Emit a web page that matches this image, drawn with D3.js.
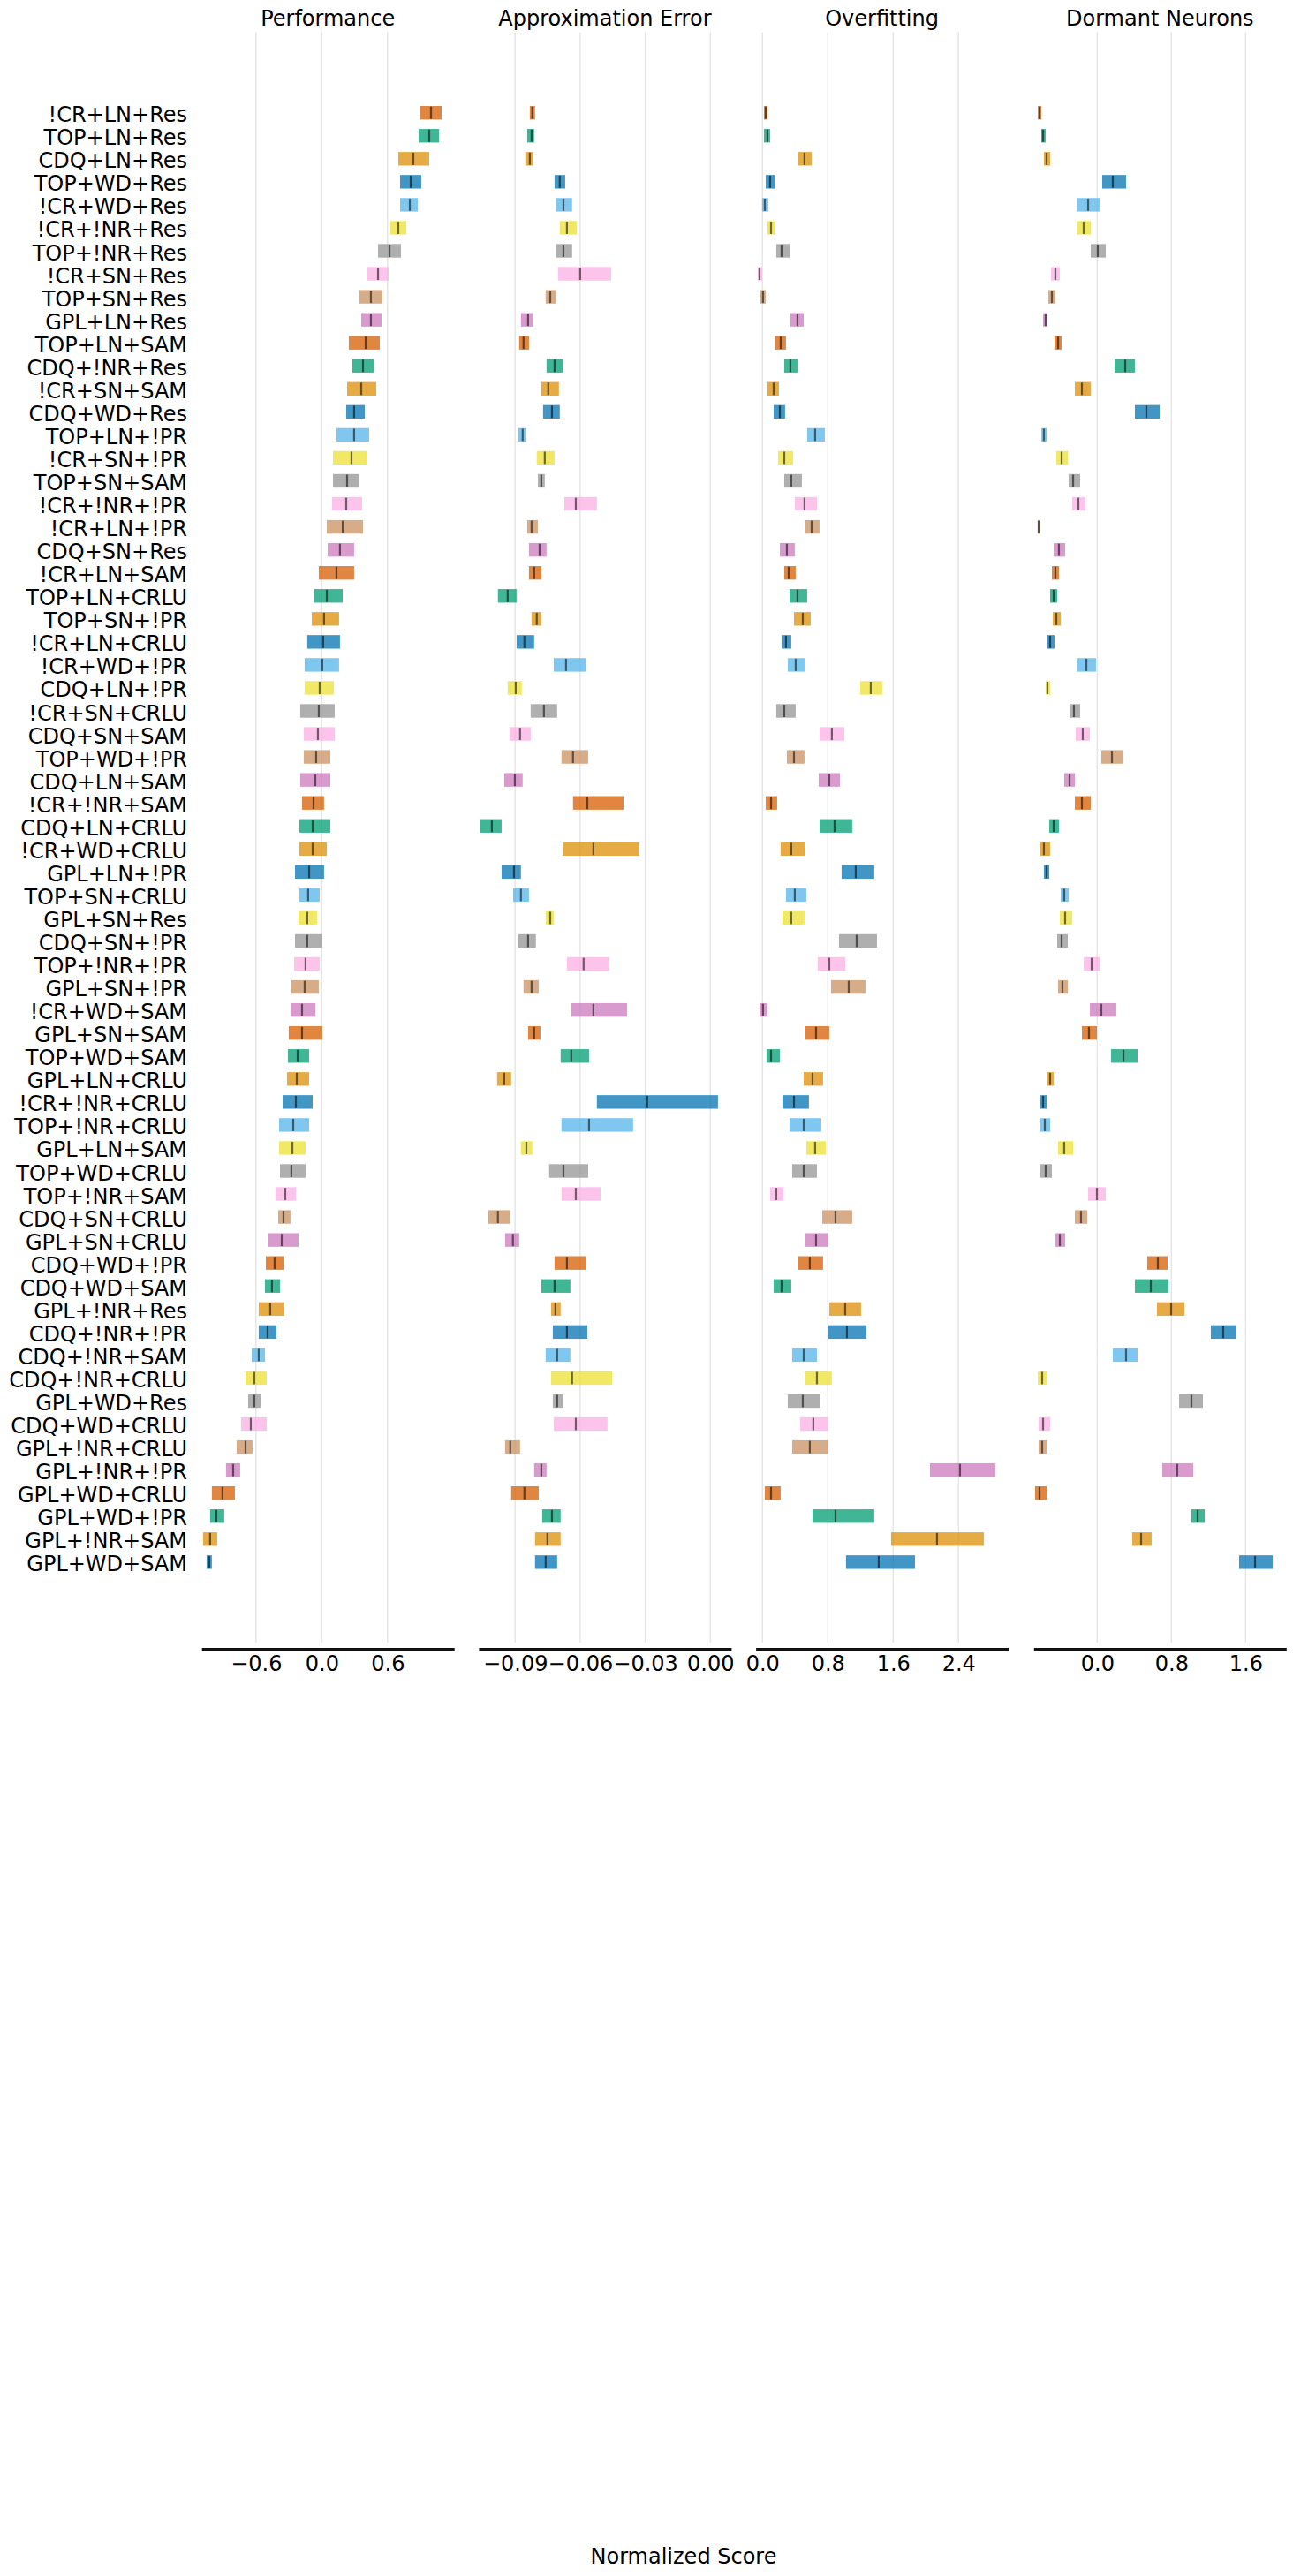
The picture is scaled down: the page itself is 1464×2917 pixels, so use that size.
<!DOCTYPE html>
<html>
<head>
<meta charset="utf-8">
<script src="https://cdn.jsdelivr.net/npm/d3@7"></script>
<style>
  html, body { margin: 0; padding: 0; background: #ffffff; }
  svg { display: block; }
  text { font-family: "DejaVu Sans", sans-serif; fill: #000; }
</style>
</head>
<body>
<div id="chart"></div>
<script>
// ---------------- DATA ----------------
const categories = [
  "!CR+LN+Res","TOP+LN+Res","CDQ+LN+Res","TOP+WD+Res","!CR+WD+Res","!CR+!NR+Res","TOP+!NR+Res","!CR+SN+Res",
  "TOP+SN+Res","GPL+LN+Res","TOP+LN+SAM","CDQ+!NR+Res","!CR+SN+SAM","CDQ+WD+Res","TOP+LN+!PR","!CR+SN+!PR",
  "TOP+SN+SAM","!CR+!NR+!PR","!CR+LN+!PR","CDQ+SN+Res","!CR+LN+SAM","TOP+LN+CRLU","TOP+SN+!PR","!CR+LN+CRLU",
  "!CR+WD+!PR","CDQ+LN+!PR","!CR+SN+CRLU","CDQ+SN+SAM","TOP+WD+!PR","CDQ+LN+SAM","!CR+!NR+SAM","CDQ+LN+CRLU",
  "!CR+WD+CRLU","GPL+LN+!PR","TOP+SN+CRLU","GPL+SN+Res","CDQ+SN+!PR","TOP+!NR+!PR","GPL+SN+!PR","!CR+WD+SAM",
  "GPL+SN+SAM","TOP+WD+SAM","GPL+LN+CRLU","!CR+!NR+CRLU","TOP+!NR+CRLU","GPL+LN+SAM","TOP+WD+CRLU","TOP+!NR+SAM",
  "CDQ+SN+CRLU","GPL+SN+CRLU","CDQ+WD+!PR","CDQ+WD+SAM","GPL+!NR+Res","CDQ+!NR+!PR","CDQ+!NR+SAM","CDQ+!NR+CRLU",
  "GPL+WD+Res","CDQ+WD+CRLU","GPL+!NR+CRLU","GPL+!NR+!PR","GPL+WD+CRLU","GPL+WD+!PR","GPL+!NR+SAM","GPL+WD+SAM"
];

const panelTitles = ["Performance", "Approximation Error", "Overfitting", "Dormant Neurons"];
const xAxisLabel = "Normalized Score";

// Performance
const perfLow = [0.899,0.883,0.698,0.714,0.714,0.626,0.513,0.416,0.344,0.360,0.247,0.279,0.231,0.223,0.134,0.102,
  0.102,0.094,0.046,0.054,-0.027,-0.067,-0.091,-0.132,-0.156,-0.156,-0.196,-0.164,-0.164,-0.196,-0.180,-0.204,
  -0.204,-0.244,-0.204,-0.212,-0.244,-0.252,-0.277,-0.285,-0.301,-0.309,-0.317,-0.357,-0.389,-0.389,-0.381,-0.422,
  -0.397,-0.486,-0.510,-0.518,-0.575,-0.575,-0.639,-0.695,-0.671,-0.736,-0.776,-0.873,-1.002,-1.018,-1.082,-1.050];
const perfMid = [0.996,0.980,0.835,0.811,0.803,0.698,0.618,0.513,0.448,0.448,0.400,0.376,0.360,0.295,0.295,0.271,
  0.231,0.223,0.191,0.166,0.134,0.046,0.021,0.013,0.005,-0.019,-0.027,-0.035,-0.051,-0.059,-0.075,-0.083,
  -0.083,-0.115,-0.124,-0.132,-0.132,-0.148,-0.156,-0.180,-0.180,-0.220,-0.228,-0.236,-0.260,-0.268,-0.277,-0.333,
  -0.349,-0.365,-0.430,-0.454,-0.470,-0.494,-0.575,-0.615,-0.615,-0.647,-0.695,-0.808,-0.905,-0.961,-1.018,-1.026];
const perfHigh = [1.093,1.069,0.980,0.907,0.875,0.771,0.722,0.610,0.553,0.545,0.529,0.473,0.497,0.392,0.432,0.416,
  0.344,0.368,0.376,0.295,0.295,0.191,0.158,0.166,0.158,0.110,0.118,0.118,0.078,0.078,0.021,0.078,
  0.046,0.021,-0.019,-0.043,0.005,-0.019,-0.027,-0.059,0.005,-0.115,-0.115,-0.083,-0.115,-0.148,-0.148,-0.236,
  -0.285,-0.212,-0.349,-0.381,-0.341,-0.413,-0.518,-0.502,-0.550,-0.502,-0.631,-0.744,-0.792,-0.889,-0.953,-1.002];

// Approximation Error
const approxLow = [-0.0832,-0.0844,-0.0853,-0.0718,-0.0710,-0.0694,-0.0710,-0.0702,-0.0759,-0.0873,-0.0881,-0.0755,-0.0779,-0.0771,-0.0885,-0.0800,
  -0.0795,-0.0673,-0.0844,-0.0836,-0.0836,-0.0979,-0.0824,-0.0893,-0.0722,-0.0934,-0.0828,-0.0926,-0.0686,-0.0950,-0.0633,-0.1060,
  -0.0681,-0.0962,-0.0909,-0.0759,-0.0885,-0.0661,-0.0861,-0.0641,-0.0840,-0.0690,-0.0983,-0.0523,-0.0686,-0.0873,-0.0743,-0.0686,
  -0.1024,-0.0946,-0.0718,-0.0779,-0.0734,-0.0726,-0.0759,-0.0734,-0.0726,-0.0722,-0.0946,-0.0812,-0.0918,-0.0775,-0.0808,-0.0808];
const approxMid = [-0.0820,-0.0824,-0.0832,-0.0694,-0.0677,-0.0661,-0.0677,-0.0600,-0.0738,-0.0840,-0.0861,-0.0718,-0.0747,-0.0730,-0.0865,-0.0763,
  -0.0779,-0.0620,-0.0824,-0.0787,-0.0812,-0.0934,-0.0800,-0.0857,-0.0665,-0.0897,-0.0767,-0.0877,-0.0633,-0.0901,-0.0567,-0.1007,
  -0.0539,-0.0905,-0.0873,-0.0738,-0.0840,-0.0584,-0.0824,-0.0539,-0.0812,-0.0641,-0.0950,-0.0291,-0.0559,-0.0848,-0.0677,-0.0620,
  -0.0979,-0.0910,-0.0661,-0.0718,-0.0714,-0.0661,-0.0706,-0.0637,-0.0706,-0.0620,-0.0922,-0.0779,-0.0857,-0.0730,-0.0751,-0.0759];
const approxHigh = [-0.0808,-0.0812,-0.0816,-0.0669,-0.0637,-0.0616,-0.0637,-0.0457,-0.0710,-0.0816,-0.0836,-0.0681,-0.0698,-0.0694,-0.0848,-0.0718,
  -0.0763,-0.0523,-0.0795,-0.0755,-0.0779,-0.0893,-0.0779,-0.0812,-0.0572,-0.0869,-0.0706,-0.0828,-0.0563,-0.0865,-0.0400,-0.0962,
  -0.0327,-0.0873,-0.0836,-0.0722,-0.0804,-0.0466,-0.0791,-0.0384,-0.0783,-0.0559,-0.0918,0.0035,-0.0356,-0.0820,-0.0563,-0.0506,
  -0.0922,-0.0881,-0.0572,-0.0645,-0.0690,-0.0567,-0.0645,-0.0453,-0.0677,-0.0474,-0.0877,-0.0755,-0.0791,-0.0690,-0.0690,-0.0706];

// Overfitting
const overLow = [0.018,0.018,0.440,0.040,-0.004,0.061,0.169,-0.058,-0.025,0.342,0.148,0.267,0.061,0.137,0.548,0.191,
  0.267,0.396,0.526,0.213,0.267,0.332,0.386,0.234,0.310,1.196,0.169,0.699,0.299,0.688,0.040,0.699,
  0.223,0.969,0.288,0.245,0.937,0.677,0.840,-0.036,0.526,0.050,0.505,0.245,0.332,0.537,0.364,0.094,
  0.732,0.526,0.440,0.137,0.818,0.807,0.364,0.515,0.310,0.461,0.364,2.050,0.029,0.613,1.575,1.023];
const overMid = [0.040,0.061,0.515,0.094,0.029,0.105,0.234,-0.036,0.007,0.429,0.223,0.342,0.137,0.213,0.645,0.267,
  0.353,0.515,0.602,0.299,0.321,0.429,0.494,0.288,0.407,1.326,0.267,0.850,0.386,0.818,0.105,0.883,
  0.353,1.142,0.396,0.353,1.153,0.818,1.056,0.007,0.656,0.105,0.613,0.386,0.505,0.645,0.505,0.169,
  0.894,0.656,0.580,0.234,1.013,1.034,0.505,0.667,0.494,0.623,0.580,2.418,0.105,0.894,2.137,1.423];
const overHigh = [0.061,0.094,0.602,0.159,0.072,0.159,0.332,-0.004,0.040,0.505,0.288,0.429,0.202,0.277,0.764,0.375,
  0.483,0.667,0.699,0.396,0.407,0.548,0.591,0.353,0.526,1.467,0.407,1.002,0.515,0.948,0.180,1.099,
  0.526,1.369,0.537,0.515,1.402,1.013,1.261,0.061,0.818,0.213,0.742,0.569,0.721,0.775,0.667,0.256,
  1.099,0.807,0.742,0.353,1.207,1.272,0.667,0.850,0.710,0.807,0.807,2.850,0.223,1.369,2.710,1.867];

// Dormant Neurons
const dormLow = [-0.641,-0.603,-0.575,0.054,-0.213,-0.222,-0.070,-0.498,-0.527,-0.584,-0.460,0.187,-0.241,0.406,-0.603,-0.441,
  -0.308,-0.270,-0.641,-0.470,-0.489,-0.508,-0.479,-0.546,-0.222,-0.556,-0.298,-0.232,0.044,-0.356,-0.241,-0.517,
  -0.613,-0.575,-0.394,-0.403,-0.432,-0.146,-0.422,-0.079,-0.165,0.149,-0.546,-0.613,-0.613,-0.422,-0.613,-0.098,
  -0.241,-0.451,0.540,0.406,0.644,1.225,0.168,-0.641,0.883,-0.632,-0.632,0.702,-0.670,1.016,0.378,1.530];
const dormMid = [-0.622,-0.584,-0.546,0.168,-0.098,-0.146,0.006,-0.451,-0.489,-0.556,-0.422,0.302,-0.165,0.530,-0.575,-0.384,
  -0.260,-0.203,-0.632,-0.413,-0.451,-0.470,-0.441,-0.508,-0.117,-0.537,-0.251,-0.156,0.159,-0.298,-0.165,-0.470,
  -0.575,-0.546,-0.356,-0.346,-0.384,-0.060,-0.375,0.044,-0.089,0.283,-0.508,-0.584,-0.565,-0.356,-0.556,-0.003,
  -0.175,-0.403,0.654,0.578,0.797,1.359,0.311,-0.594,1.016,-0.584,-0.594,0.863,-0.622,1.083,0.473,1.702];
const dormHigh = [-0.603,-0.556,-0.508,0.311,0.025,-0.070,0.092,-0.403,-0.451,-0.537,-0.384,0.406,-0.070,0.673,-0.546,-0.317,
  -0.184,-0.127,-0.622,-0.346,-0.413,-0.432,-0.394,-0.460,-0.013,-0.508,-0.184,-0.079,0.283,-0.241,-0.070,-0.413,
  -0.508,-0.517,-0.308,-0.270,-0.317,0.025,-0.317,0.206,-0.003,0.435,-0.470,-0.546,-0.508,-0.260,-0.489,0.092,
  -0.108,-0.346,0.759,0.768,0.940,1.502,0.435,-0.537,1.140,-0.508,-0.537,1.035,-0.546,1.159,0.587,1.892];

// Tick values
const perfTicks = [-0.6, 0.0, 0.6];
const approxTicks = [-0.09, -0.06, -0.03, 0.00];
const overTicks = [0.0, 0.8, 1.6, 2.4];
const dormTicks = [0.0, 0.8, 1.6];

// Palette (cycled by row)
const palette = ["#d55e00","#029e73","#de8f05","#0173b2","#56b4e9","#ece133","#949494","#fbafe4","#ca9161","#cc78bc"];

// ---------------- LAYOUT ----------------
const W = 1464, H = 2917;
const firstRowY = 127.7, rowStep = 26.05;
const axTop = firstRowY - 3.5 * rowStep;
const axBottom = firstRowY + (categories.length - 1 + 3.5) * rowStep;
const spineY = axBottom + 7;
const barH = 15.4;
const medH = 14;

const panels = [
  { title: panelTitles[0], lo: perfLow, mid: perfMid, hi: perfHigh, ticks: perfTicks, fmt: ".1f",
    left: 228.2, right: 514.2, domain: [-1.096, 1.207] },
  { title: panelTitles[1], lo: approxLow, mid: approxMid, hi: approxHigh, ticks: approxTicks, fmt: ".2f",
    left: 541.9, right: 827.9, domain: [-0.1068, 0.0096] },
  { title: panelTitles[2], lo: overLow, mid: overMid, hi: overHigh, ticks: overTicks, fmt: ".1f",
    left: 855.6, right: 1141.6, domain: [-0.083, 3.009] },
  { title: panelTitles[3], lo: dormLow, mid: dormMid, hi: dormHigh, ticks: dormTicks, fmt: ".1f",
    left: 1170.3, right: 1456.3, domain: [-0.686, 2.038] }
];

const svg = d3.select("#chart").append("svg")
  .attr("width", W).attr("height", H)
  .attr("viewBox", `0 0 ${W} ${H}`);

svg.append("rect").attr("width", W).attr("height", H).attr("fill", "#ffffff");

const y = d3.scalePoint()
  .domain(categories)
  .range([firstRowY, firstRowY + (categories.length - 1) * rowStep]);

// Y labels (shared, left of first panel)
svg.append("g").attr("class", "ylabels")
  .selectAll("text").data(categories).join("text")
  .attr("x", 212)
  .attr("y", d => y(d) + 10.5)
  .attr("text-anchor", "end")
  .style("font-size", "24px")
  .text(d => d);

panels.forEach((p, pi) => {
  const x = d3.scaleLinear().domain(p.domain).range([p.left, p.right]);
  const g = svg.append("g").attr("class", "panel panel-" + pi);

  // gridlines
  g.append("g").selectAll("line").data(p.ticks).join("line")
    .attr("x1", d => x(d)).attr("x2", d => x(d))
    .attr("y1", axTop).attr("y2", axBottom)
    .attr("stroke", "#e6e6e6").attr("stroke-width", 1.5);

  // title
  g.append("text")
    .attr("x", (p.left + p.right) / 2)
    .attr("y", 29.3)
    .attr("text-anchor", "middle")
    .style("font-size", "24px")
    .text(p.title);

  const rows = categories.map((c, i) => ({ c, i, lo: p.lo[i], mid: p.mid[i], hi: p.hi[i] }));

  // bars
  g.append("g").selectAll("rect").data(rows).join("rect")
    .attr("x", d => x(d.lo))
    .attr("width", d => Math.max(1, x(d.hi) - x(d.lo)))
    .attr("y", d => y(d.c) - barH / 2)
    .attr("height", barH)
    .attr("fill", d => palette[d.i % palette.length])
    .attr("fill-opacity", 0.75);

  // medians
  g.append("g").selectAll("line").data(rows).join("line")
    .attr("x1", d => x(d.mid)).attr("x2", d => x(d.mid))
    .attr("y1", d => y(d.c) - medH / 2)
    .attr("y2", d => y(d.c) + medH / 2)
    .attr("stroke", "#000").attr("stroke-opacity", 0.55)
    .attr("stroke-width", 2.2);

  // x axis (offset spine)
  const axis = d3.axisBottom(x)
    .tickValues(p.ticks)
    .tickFormat(d3.format(p.fmt))
    .tickSize(0)
    .tickSizeOuter(0)
    .tickPadding(8);
  const ax = g.append("g").attr("transform", `translate(0,${spineY})`).call(axis);
  ax.select(".domain").attr("stroke", "#111").attr("stroke-width", 3);
  ax.selectAll(".tick text")
    .style("font-size", "24px")
    .style("font-family", "'DejaVu Sans', sans-serif")
    .attr("fill", "#000");
});

// Shared x label
svg.append("text")
  .attr("x", 774)
  .attr("y", 2902.7)
  .attr("text-anchor", "middle")
  .style("font-size", "24px")
  .text(xAxisLabel);
</script>
</body>
</html>
